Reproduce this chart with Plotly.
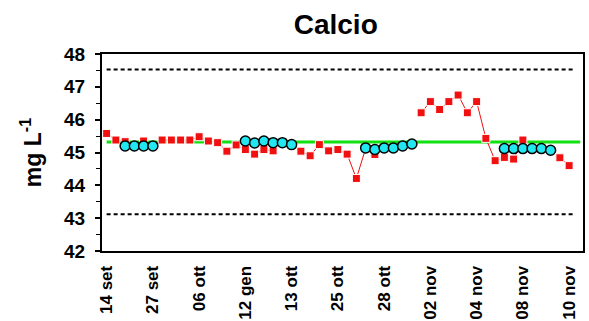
import plotly.graph_objects as go

# Sample index along the x axis (one slot per measurement)
labels_pos = [0, 5, 10, 15, 20, 25, 30, 35, 40, 45, 50]
labels_txt = ["14 set", "27 set", "06 ott", "12 gen", "13 ott", "25 ott",
              "28 ott", "02 nov", "04 nov", "08 nov", "10 nov"]

# Routine measurements (mg/L); None where no value was recorded
routine_x = list(range(51))
routine_y = [45.58, 45.38, 45.33, None, 45.35, None, 45.38, 45.38, 45.38, 45.38,
             45.48, 45.35, 45.30, 45.04, 45.23, 45.09, 44.95, 45.09, 45.05, None,
             None, 45.04, 44.90, 45.24, 45.05, 45.09, 44.95, 44.21, 45.12, 44.94,
             None, None, None, None, 46.21, 46.55, 46.31, 46.55, 46.75, 46.21,
             46.55, 45.43, 44.75, 44.85, 44.80, 45.38, None, None, None, 44.84,
             44.60]

# Control-sample runs
control_x = [2, 3, 4, 5, 15, 16, 17, 18, 19, 20, 28, 29, 30, 31, 32, 33,
             43, 44, 45, 46, 47, 48]
control_y = [45.20, 45.20, 45.20, 45.20, 45.35, 45.29, 45.35, 45.30, 45.30, 45.24,
             45.14, 45.09, 45.14, 45.14, 45.20, 45.26,
             45.12, 45.12, 45.12, 45.12, 45.12, 45.07]

# Mean and control limits
mean_value = 45.32
mean_span = [0, 51.2]
upper_limit = 47.53
lower_limit = 43.12
limit_span = [0, 50.6]

x_range = [-0.5, 51.5]
y_range = [42, 48]
half_steps = [i + 0.5 for i in range(-1, 52)]

FONT = "Liberation Sans, Arial, sans-serif"

fig = go.Figure()

for lim in (upper_limit, lower_limit):
    fig.add_trace(go.Scatter(
        x=limit_span, y=[lim, lim], mode="lines",
        line=dict(color="black", width=2, dash="4px,3px"),
        hoverinfo="skip", showlegend=False))

fig.add_trace(go.Scatter(
    x=mean_span, y=[mean_value, mean_value], mode="lines",
    line=dict(color="#11E011", width=3), showlegend=False))

fig.add_trace(go.Scatter(
    x=routine_x, y=routine_y, mode="lines+markers",
    line=dict(color="#F01010", width=1),
    marker=dict(symbol="square", size=8, color="#F01010",
                line=dict(color="white", width=1)),
    connectgaps=False, showlegend=False))

fig.add_trace(go.Scatter(
    x=control_x, y=control_y, mode="markers",
    marker=dict(symbol="circle", size=10, color="#22E6F0",
                line=dict(color="black", width=1.5)),
    showlegend=False))

fig.update_layout(
    width=589, height=321,
    margin=dict(l=102, r=6, t=54, b=70, autoexpand=False),
    paper_bgcolor="white", plot_bgcolor="white",
    font=dict(family=FONT, color="black"),
    title=dict(text="Calcio", x=0.57, xanchor="center", y=0.925, yanchor="middle",
               font=dict(size=28, family=FONT, weight="bold")),
    xaxis=dict(range=x_range, tickmode="array", tickvals=labels_pos,
               ticktext=labels_txt, tickangle=-90, ticks="",
               ticklabelstandoff=6, automargin=False,
               tickfont=dict(size=17, family=FONT, weight="bold"),
               showline=True, linecolor="black", linewidth=2, mirror=True,
               showgrid=False, zeroline=False),
    xaxis2=dict(range=x_range, overlaying="x", tickmode="array",
                tickvals=half_steps, ticks="outside", ticklen=4, tickwidth=1,
                tickcolor="black", showticklabels=False, showline=False,
                showgrid=False, zeroline=False),
    xaxis3=dict(range=x_range, overlaying="x", tickmode="array",
                tickvals=half_steps, ticks="inside", ticklen=4, tickwidth=1,
                tickcolor="black", showticklabels=False, showline=False,
                showgrid=False, zeroline=False),
    yaxis=dict(range=y_range, tickmode="array", tickvals=list(range(42, 49)),
               ticks="outside", ticklen=5, tickwidth=1.5, tickcolor="black",
               minor=dict(tickmode="array",
                          tickvals=[42.5, 43.5, 44.5, 45.5, 46.5, 47.5],
                          ticks="outside", ticklen=4, tickwidth=1,
                          tickcolor="black"),
               ticklabelstandoff=6, automargin=False,
               tickfont=dict(size=19, family=FONT, weight="bold"),
               title=dict(text="mg L<sup>-1</sup>", standoff=16,
                          font=dict(size=23, family=FONT, weight="bold")),
               showline=True, linecolor="black", linewidth=2, mirror=True,
               showgrid=False, zeroline=False),
    yaxis2=dict(range=y_range, overlaying="y", side="left", tickmode="array",
                tickvals=list(range(42, 49)), ticks="inside", ticklen=5,
                tickwidth=1.5, tickcolor="black", showticklabels=False,
                showline=False, showgrid=False, zeroline=False),
)

fig.write_html("out.html")
